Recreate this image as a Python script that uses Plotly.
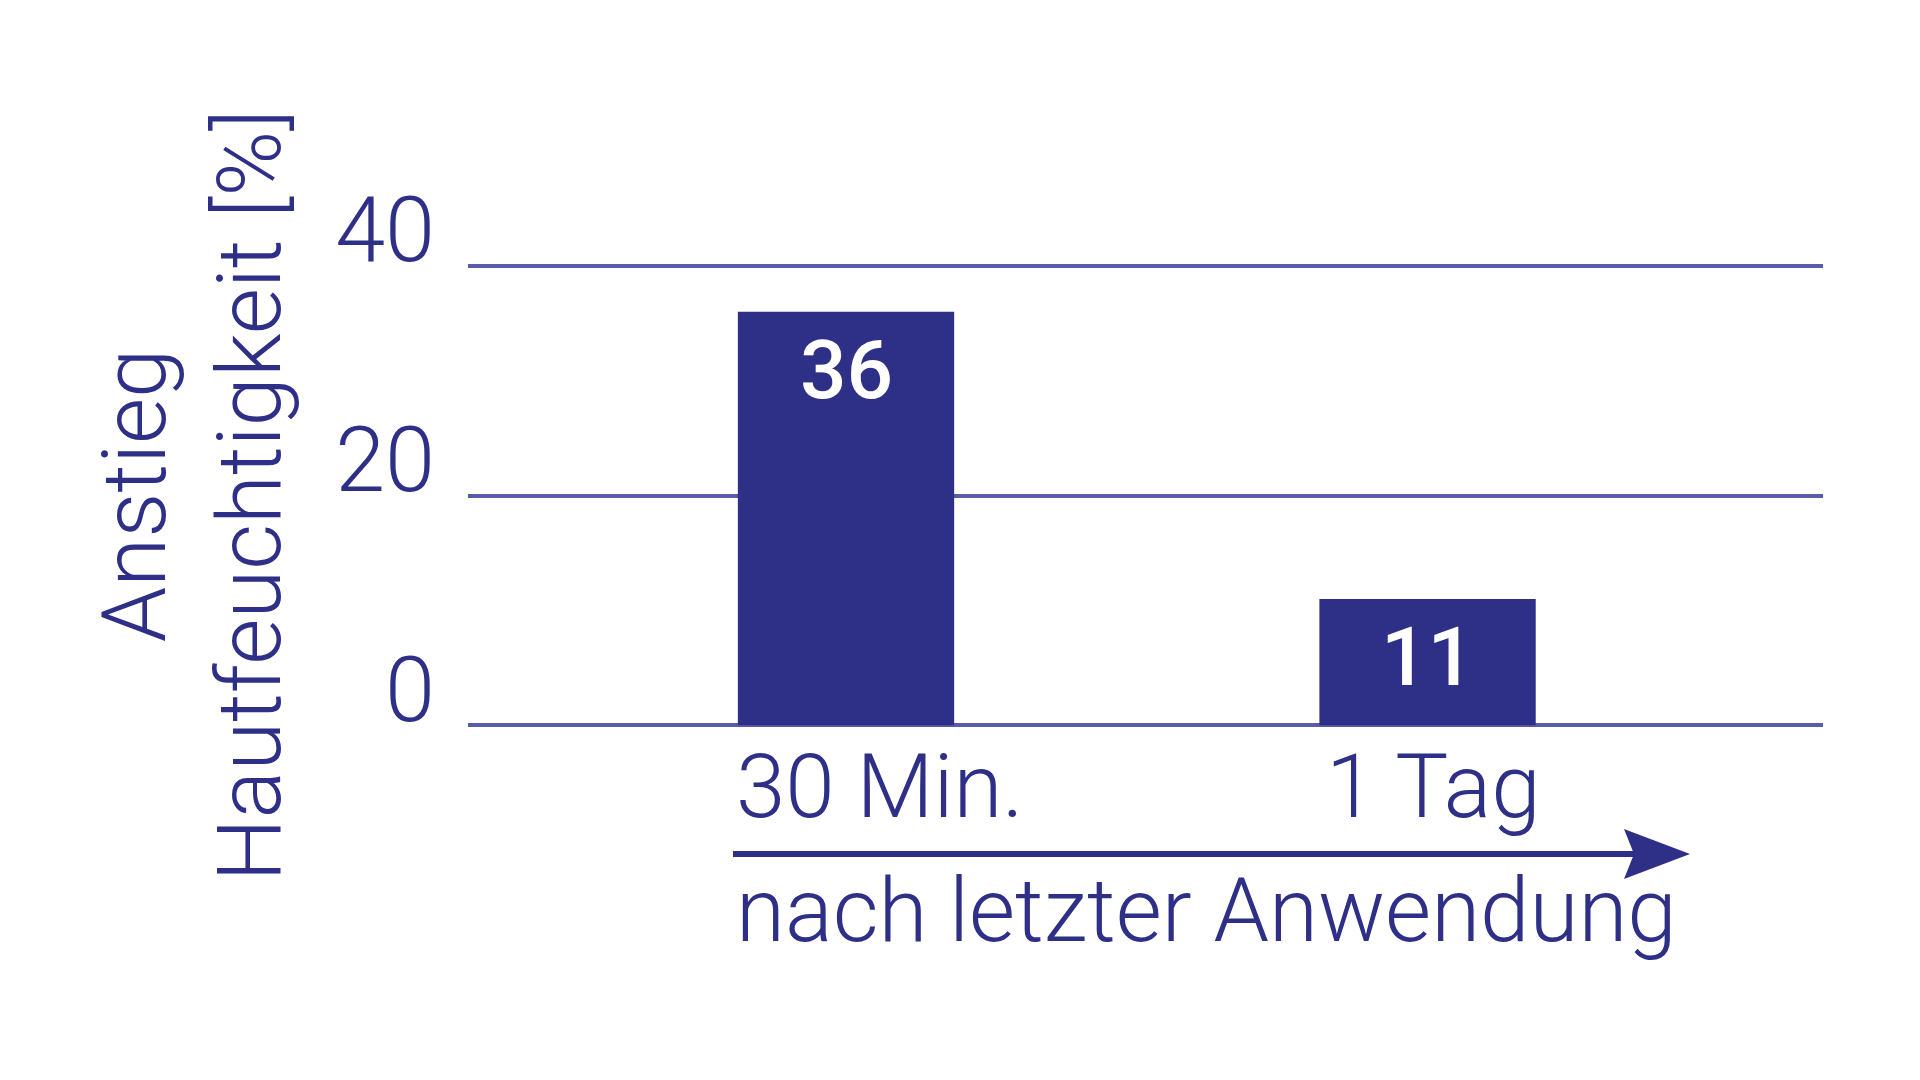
import plotly.graph_objects as go

# data
categories = ["30 Min.", "1 Tag"]
values = [36, 11]
y_ticks = [0, 20, 40]
y_title = "Anstieg<br>Hautfeuchtigkeit [%]"
x_title = "nach letzter Anwendung"

BLUE = "#2e2f87"
GRID = "#5b5ca9"
FONT = "Roboto"

W, H = 1920, 1080
L, R, T, B = 468, 97, 264, 353
PW, PH = W - L - R, H - T - B


def px_x(px):
    return (px - L) / PW


def px_y(py):
    return (H - B - py) / PH


fig = go.Figure()
fig.add_trace(go.Bar(
    x=categories,
    y=values,
    width=0.372,
    marker=dict(color=BLUE, line=dict(width=0)),
    hoverinfo="skip",
))

# value labels inside the bars
for cat, val in zip(categories, values):
    fig.add_annotation(
        x=cat, y=val, text=str(val), showarrow=False,
        yanchor="middle", yshift=-58,
        font=dict(family=FONT, size=82, color="white", weight=500),
    )

# category labels under the bars
for cat, shift in zip(categories, [-112, -104]):
    fig.add_annotation(
        x=cat, y=0, text=cat, showarrow=False,
        xanchor="left", yanchor="middle", xshift=shift, yshift=-61,
        font=dict(family=FONT, size=89, color=BLUE, weight=300),
    )

# y title
fig.add_annotation(
    xref="paper", yref="paper", x=px_x(192), y=0.5,
    text=y_title, showarrow=False, textangle=-90,
    xanchor="center", yanchor="middle", align="center",
    font=dict(family=FONT, size=89, color=BLUE, weight=300),
)

# x title under the arrow
fig.add_annotation(
    xref="paper", yref="paper", x=px_x(734), y=px_y(910),
    text=x_title, showarrow=False,
    xanchor="left", yanchor="middle",
    font=dict(family=FONT, size=89, color=BLUE, weight=300),
)

# arrow
fig.add_shape(
    type="line", xref="paper", yref="paper",
    x0=px_x(733), x1=px_x(1640), y0=px_y(854), y1=px_y(854),
    line=dict(color=BLUE, width=6),
)
tip, back, notch, top, bot = 1690, 1624, 1634, 829, 879
fig.add_shape(
    type="path", xref="paper", yref="paper",
    path=(f"M {px_x(tip)} {px_y(854)} L {px_x(back)} {px_y(top)} "
          f"L {px_x(notch)} {px_y(854)} L {px_x(back)} {px_y(bot)} Z"),
    fillcolor=BLUE, line=dict(width=0),
)

fig.update_layout(
    width=W, height=H,
    margin=dict(l=L, r=R, t=T, b=B),
    plot_bgcolor="white", paper_bgcolor="white",
    showlegend=False,
    xaxis=dict(
        range=[-0.65, 1.68], showticklabels=False, showgrid=False,
        zeroline=False, showline=False, ticks="",
    ),
    yaxis=dict(
        range=[-0.15, 40.15], tickvals=y_ticks, showgrid=True,
        gridcolor=GRID, gridwidth=3.5, zeroline=False, showline=False,
        ticks="", ticklabelstandoff=32, ticklabelshift=-36,
        tickfont=dict(family=FONT, size=90, color=BLUE, weight=300),
        layer="below traces",
    ),
)

fig.write_html(
    "out.html",
    config={"displayModeBar": False},
    post_script="document.body.style.margin='0';",
)
